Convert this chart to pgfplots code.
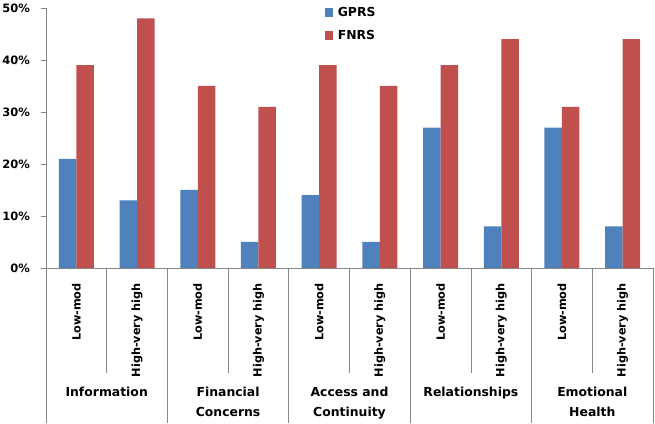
\documentclass[border=0pt]{standalone}
\usepackage{fontspec}
\setmainfont{DejaVu Sans}
\usepackage{pgfplots}
\pgfplotsset{compat=1.18}
\usetikzlibrary{calc}
\definecolor{gp}{HTML}{4F81BD}
\definecolor{fn}{HTML}{C0504D}
\definecolor{axc}{HTML}{868686}
\begin{document}
\begin{tikzpicture}
\begin{axis}[name=ax, scale only axis, width=607pt, height=260pt,
  ybar=0pt, bar width=17.5pt,
  xmin=-0.5, xmax=9.5, ymin=0, ymax=50,
  axis x line*=bottom, axis y line*=left,
  axis line style={-, color=axc, line width=0.8pt},
  ytick={0,10,20,30,40,50},
  yticklabels={0\%,10\%,20\%,30\%,40\%,50\%},
  yticklabel style={font=\bfseries\fontsize{11.5}{13}\selectfont, inner sep=0pt, anchor=east, xshift=-11pt},
  xtick={0,...,9},
  xticklabels={Low-mod,High-very high,Low-mod,High-very high,Low-mod,High-very high,Low-mod,High-very high,Low-mod,High-very high},
  xticklabel style={font=\bfseries\fontsize{11.3}{13}\selectfont, inner sep=0pt, yshift=-10pt, rotate=90, anchor=east},
  tick align=outside, major tick length=5pt,
  y tick style={color=axc, line width=0.8pt},
  x tick style={draw=none},
  clip=false,
  legend style={at={(0.459,1.01)}, anchor=north west, draw=none, fill=none,
    font=\bfseries\fontsize{12.4}{14}\selectfont, row sep=8pt, inner sep=0pt},
  legend cell align=left,
  legend image code/.code={\fill[#1] (0pt,-4pt) rectangle (8.5pt,4.5pt); \path (11pt,0pt);},
]
\addplot[fill=gp, draw=none] coordinates {(0,21) (1,13) (2,15) (3,5) (4,14) (5,5) (6,27) (7,8) (8,27) (9,8)};
\addplot[fill=fn, draw=none] coordinates {(0,39) (1,48) (2,35) (3,31) (4,39) (5,35) (6,39) (7,44) (8,31) (9,44)};
\legend{GPRS,FNRS}
% separators
\draw[axc, line width=0.8pt] (axis cs:-0.5,0) -- ++(0pt,-155pt);
\draw[axc, line width=0.8pt] (axis cs:1.5,0) -- ++(0pt,-155pt);
\draw[axc, line width=0.8pt] (axis cs:3.5,0) -- ++(0pt,-155pt);
\draw[axc, line width=0.8pt] (axis cs:5.5,0) -- ++(0pt,-155pt);
\draw[axc, line width=0.8pt] (axis cs:7.5,0) -- ++(0pt,-155pt);
\draw[axc, line width=0.8pt] (axis cs:9.5,0) -- ++(0pt,-155pt);
\draw[axc, line width=0.8pt] (axis cs:0.5,0) -- ++(0pt,-105pt);
\draw[axc, line width=0.8pt] (axis cs:2.5,0) -- ++(0pt,-105pt);
\draw[axc, line width=0.8pt] (axis cs:4.5,0) -- ++(0pt,-105pt);
\draw[axc, line width=0.8pt] (axis cs:6.5,0) -- ++(0pt,-105pt);
\draw[axc, line width=0.8pt] (axis cs:8.5,0) -- ++(0pt,-105pt);
% group labels
\tikzset{grp/.style={anchor=base, font=\bfseries\fontsize{12.4}{14}\selectfont, inner sep=0pt}}
\node[grp, yshift=-129pt] at (axis cs:0.5,0) {Information};
\node[grp, yshift=-129pt] at (axis cs:2.5,0) {Financial};
\node[grp, yshift=-149pt] at (axis cs:2.5,0) {Concerns};
\node[grp, yshift=-129pt] at (axis cs:4.5,0) {Access and};
\node[grp, yshift=-149pt] at (axis cs:4.5,0) {Continuity};
\node[grp, yshift=-129pt] at (axis cs:6.5,0) {Relationships};
\node[grp, yshift=-129pt] at (axis cs:8.5,0) {Emotional};
\node[grp, yshift=-149pt] at (axis cs:8.5,0) {Health};
\end{axis}
\pgfresetboundingbox
\useasboundingbox ($(ax.south west)+(-46pt,-156pt)$) rectangle ($(ax.north east)+(2pt,8pt)$);
\end{tikzpicture}
\end{document}
